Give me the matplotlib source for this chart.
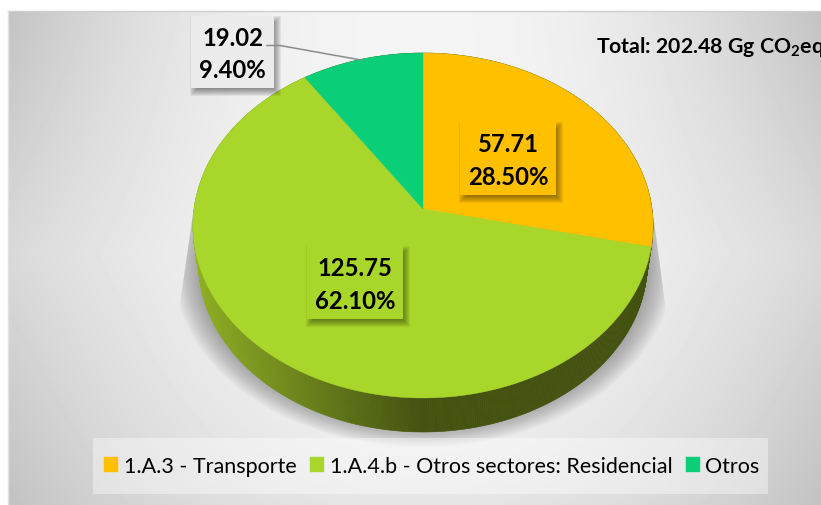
import numpy as np
import matplotlib
matplotlib.use("Agg")
import matplotlib.pyplot as plt
from matplotlib.patches import Rectangle, Ellipse, Polygon
from matplotlib.lines import Line2D

categories = ["1.A.3 - Transporte", "1.A.4.b - Otros sectores: Residencial", "Otros"]
values = [57.71, 125.75, 19.02]
percents = [28.50, 62.10, 9.40]
colors = ["#FFC000", "#A9D62A", "#0ACF78"]
total_label = r"Total: 202.48 Gg CO$_{\mathbf{2}}$eq"

plt.rcParams["font.family"] = ["Lato", "DejaVu Sans"]
plt.rcParams["mathtext.fontset"] = "custom"
plt.rcParams["mathtext.bf"] = "Lato:bold"
plt.rcParams["mathtext.rm"] = "Lato"

W, H = 821, 506
fig = plt.figure(figsize=(W / 100, H / 100), dpi=100, facecolor="white")
ax = fig.add_axes([0, 0, 1, 1])

# chart-area gradient
xx, yy = np.meshgrid(np.arange(8, W), np.arange(12, H))
dx = np.abs(xx - 415) / 407
dy = (yy - 255) / 250
t = dx ** 2 * (0.55 + 0.45 * np.abs(dy)) + 0.3 * np.clip(dy, 0, None) ** 2 * (1 - dx ** 2)
g = (245 - 51 * np.clip(t, 0, 1)) / 255
ax.imshow(g, cmap="gray", vmin=0, vmax=1, extent=(8, W, H, 12), aspect="auto", zorder=0, interpolation="bilinear")
ax.add_line(Line2D([8, W], [12, 12], color="#cfcfcf", lw=1, zorder=1))
ax.add_line(Line2D([8, 8], [12, H], color="#e2e2e2", lw=1, zorder=1))

CX, Y0, A, B, K = 423.0, 210.0, 229.0, 170.9, 0.0956


def project(theta, a=A, b=B, y0=Y0, cx=CX):
    """theta: clockwise angle from top, radians."""
    u, v = np.sin(theta), np.cos(theta)
    s = 1 + K * v
    return cx + a * u / s, y0 - b * v / s


# soft shadow under the pie
clip = Polygon([(193, 215), (653, 215), (667, 320), (667, 460), (178, 460), (178, 320)],
               transform=ax.transData, closed=True, fc="none", ec="none")
ax.add_patch(clip)
for i in range(24):
    f = i / 23
    e = Ellipse((423, 268), 2 * (250 - 30 * f), 2 * (180 - 24 * f), fc="#555555", ec="none", alpha=0.028, zorder=2)
    ax.add_patch(e)
    e.set_clip_path(clip)

# pie side
th = np.linspace(0, 2 * np.pi, 721)
xt, yt = project(th)
xb, yb = project(th, a=A * 0.975, b=B * 0.98, y0=Y0 + 37.8)
c0 = np.array([0x8F, 0xB0, 0x22]) / 255
c1 = np.array([0x44, 0x52, 0x10]) / 255
for i in range(len(th) - 1):
    m = np.clip((xt[i] - 193) / (420 - 193), 0, 1)
    c = c0 * (1 - m) + c1 * m
    ax.fill([xt[i], xt[i + 1], xb[i + 1], xb[i]], [yt[i], yt[i + 1], yb[i + 1], yb[i]],
            color=c, lw=0.4, zorder=3)

# pie top, clockwise from 12 o'clock
edges = np.cumsum([0] + values) / np.sum(values) * 2 * np.pi
handles = []
for a0, a1, col in zip(edges[:-1], edges[1:], colors):
    s = np.linspace(a0, a1, 200)
    x, y = project(s)
    poly = ax.fill(np.r_[CX, x], np.r_[Y0, y], color=col, lw=0.3, zorder=4)[0]
    handles.append(poly)

# data labels
label_boxes = [(460, 123, 96, 73), (307, 247, 96, 73), (191, 17, 83, 72)]
label_fill = ["#FFC000", "#A9D62A", "#ECECEC"]
for (bx, by, bw, bh), fc, v, p in zip(label_boxes, label_fill, values, percents):
    for k in range(9):
        grow = 4 - k
        ax.add_patch(Rectangle((bx + 3 - grow, by + 4 - grow), bw + 2 * grow, bh + 2 * grow,
                               fc="black", ec="none", alpha=0.06, zorder=5))
    ax.add_patch(Rectangle((bx, by), bw, bh, fc=fc, ec="none", zorder=6))
    ax.text(bx + bw / 2, by + bh / 2 + 1.5, f"{v:.2f}\n{p:.2f}%", ha="center", va="center",
            fontsize=17.2, fontweight="bold", color="black", linespacing=1.52, zorder=7)

# leader line
ax.add_line(Line2D([267, 280, 361], [46.5, 46.5, 61], color="#8c8c8c", lw=1.1, zorder=7))

# total
ax.text(596, 47, total_label, fontsize=15.3, fontweight="bold", color="black", ha="left", va="center", zorder=7)

# legend
ax.add_patch(Rectangle((93, 439), 675, 56, fc="white", ec="none", alpha=0.4, zorder=8))
leg = ax.legend(handles, categories, loc="center left", bbox_to_anchor=(104, 467), bbox_transform=ax.transData,
                ncol=3, fontsize=15.5, frameon=False,
                handlelength=0.65, handleheight=0.65, handletextpad=0.27, columnspacing=0.62,
                borderpad=0, borderaxespad=0)
leg.set_zorder(9)

ax.set_xlim(0, W)
ax.set_ylim(H, 0)
ax.axis("off")
fig.savefig("out.png", dpi=100)
